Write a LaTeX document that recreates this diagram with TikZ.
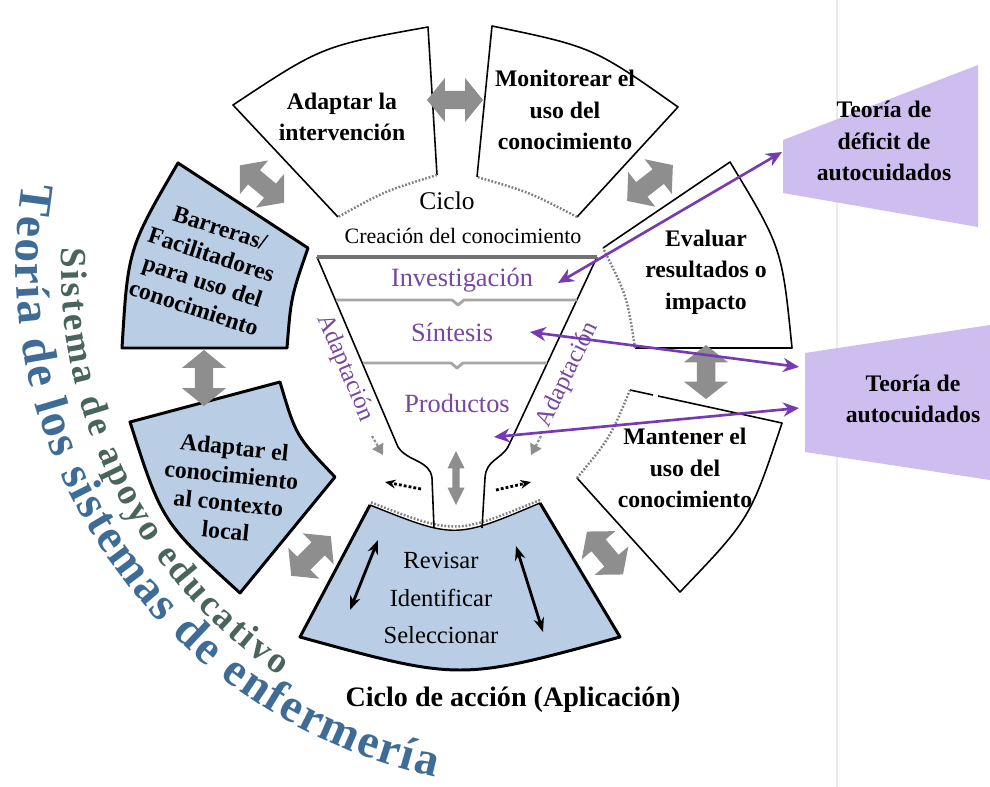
\documentclass[tikz,border=0pt]{standalone}
\usepackage{fontspec}
\setmainfont{Liberation Serif}
\usetikzlibrary{arrows.meta,decorations.text}
\definecolor{boxblue}{RGB}{185,205,229}
\definecolor{lav}{RGB}{206,190,240}
\definecolor{vio}{RGB}{118,58,178}
\definecolor{vtext}{RGB}{120,72,160}
\definecolor{agray}{RGB}{142,142,142}
\definecolor{bigblue}{RGB}{62,108,150}
\definecolor{sysgreen}{RGB}{72,100,92}
\begin{document}
\begin{tikzpicture}[x=0.02cm, y=-0.02cm,
  wedge/.style={draw=black, line width=0.9pt, line join=round},
  inarc/.style={draw=black!50, line width=1.4pt, dash pattern=on 1pt off 1pt},
  bwedge/.style={fill=boxblue, draw=black, line width=1.7pt, line join=round},
  lbl/.style={font=\fontsize{13.5}{18}\selectfont\bfseries, align=center, inner sep=0pt},
  lblt/.style={font=\fontsize{13.5}{16}\selectfont\bfseries, align=center, inner sep=0pt},
  rlbl/.style={font=\fontsize{14}{21.5}\selectfont, align=center, inner sep=0pt},
  ptext/.style={text=vtext, font=\fontsize{15}{17}\selectfont, inner sep=0pt},
  adtext/.style={text=vtext, font=\fontsize{14}{16}\selectfont, inner sep=0pt},
  parrow/.style={draw=vio, line width=1.5pt, {Stealth[length=9pt,width=8pt]}-{Stealth[length=9pt,width=8pt]}},
  barrow/.style={draw=black, line width=1.6pt, {Stealth[length=8pt,width=6pt]}-{Stealth[length=8pt,width=6pt]}},
  dotarrow/.style={draw=black, line width=1.6pt, dash pattern=on 1.6pt off 1.2pt, -{Stealth[length=6pt,width=5pt]}},
  garrowsm/.style={draw=agray, line width=1.2pt, dash pattern=on 1.5pt off 1pt, -{Triangle[length=6pt,width=7pt]}},
  divider/.style={draw=black!35, line width=1.6pt, line join=round},
  fatarrow/.pic={\fill[agray] (-1,0) -- (-0.36,-1) -- (-0.36,-0.42) -- (0.36,-0.42) -- (0.36,-1) -- (1,0) -- (0.36,1) -- (0.36,0.42) -- (-0.36,0.42) -- (-0.36,1) -- cycle;}
]
\useasboundingbox (0,0) rectangle (990,787);
\fill[white] (0,0) rectangle (990,787);
\draw[black!8, line width=0.6pt] (837,0) -- (837,787);

% ---- white wedges
\draw[wedge] (338,217) -- (233,105) .. controls (322,46) .. (428,27) -- (437,175);
\draw[inarc] (437,175) .. controls (385,191) .. (338,217);

\draw[wedge] (477,177) -- (492,26) .. controls (593,47) .. (678,107) -- (577,217);
\draw[inarc] (577,217) .. controls (529,192) .. (477,177);

\draw[wedge] (603,248) -- (730,162) .. controls (782,248) .. (792,348) -- (635,348);
\draw[inarc] (635,348) .. controls (627,296) .. (603,248);

\draw[wedge] (630,390) -- (653,395);
\draw[wedge] (658,396) -- (782,423) .. controls (750,519) .. (680,592) -- (577,478);
\draw[inarc] (577,478) .. controls (610,438) .. (630,390);

% ---- blue wedges
\fill[boxblue] (370,505) -- (300,637) .. controls (460,681) .. (620,637) -- (540,503) .. controls (455,539) .. (370,505) -- cycle;
\draw[line width=1.7pt, line join=round] (370,505) -- (300,637) .. controls (460,681) .. (620,637) -- (540,503);
\draw[line width=0.8pt] (540,503) .. controls (455,539) .. (370,505);
\draw[inarc] (540,500) .. controls (455,535) .. (370,502);

\draw[bwedge] (130,422) -- (280,382) .. controls (296,436) .. (335,477) -- (240,593) .. controls (162,522) .. (130,422) -- cycle;
\draw[bwedge] (178,163) -- (308,248) .. controls (291,297) .. (287,348) -- (122,348) .. controls (128,249) .. (178,163) -- cycle;

% ---- funnel
\draw[line width=0.9pt, line join=round] (317,257) -- (398,447) .. controls (408,462) and (430,460) .. (432,478) -- (434,528);
\draw[line width=0.9pt, line join=round] (597,257) -- (508,447) .. controls (500,460) and (486,460) .. (485,478) -- (482,528);
\draw[draw=black!55, line width=1.8pt] (317,257) -- (597,257);
\draw[divider] (336,300) -- (452,300) -- (458,305) -- (464,300) -- (577,300);
\draw[divider] (363,363) -- (451,363) -- (457,368) -- (463,363) -- (547,363);

% ---- gray fat double arrows
\pic[rotate=0, xscale=28, yscale=22] at (455,100) {fatarrow};
\pic[rotate=-40, xscale=29, yscale=22] at (262,184) {fatarrow};
\pic[rotate=38, xscale=29, yscale=22] at (650,183) {fatarrow};
\pic[rotate=90, xscale=27, yscale=22] at (706,372) {fatarrow};
\pic[rotate=-50, xscale=28, yscale=22] at (605,553) {fatarrow};
\pic[rotate=45, xscale=28, yscale=22] at (311,556) {fatarrow};
\pic[rotate=90, xscale=28, yscale=22] at (204,378) {fatarrow};
\pic[rotate=90, xscale=27, yscale=8.5] at (456,478) {fatarrow};

% ---- small arrows
\draw[garrowsm] (372,436) -- (383,455);
\draw[garrowsm] (541,436) -- (531,455);
\draw[dotarrow] (421,489) -- (385,482);
\draw[dotarrow] (496,490) -- (531,482);
\draw[barrow] (378,540) -- (350,610);
\draw[barrow] (516,546) -- (543,632);

% ---- labels
\node[lbl] (adint) at (342,117) {Adaptar la\\intervención};
\node[lbl] (monit) at (565,110) {Monitorear el\\uso del\\conocimiento};
\node[lbl] (evalu) at (706,272) {Evaluar\\resultados o\\impacto};
\node[lbl] (mante) at (685,468) {Mantener el\\uso del\\conocimiento};
\node[rlbl] (revis) at (441,598) {Revisar\\Identificar\\Seleccionar};
\node[lblt, rotate=-6] (adcon) at (230,489) {Adaptar el\\conocimiento\\al contexto\\local};
\node[lblt, rotate=-18] (barre) at (207,268) {Barreras/\\Facilitadores\\para uso del\\conocimiento};

\node[font=\fontsize{14.5}{16}\selectfont, inner sep=0pt] (ciclo) at (447,201) {Ciclo};
\node[font=\fontsize{12.5}{14}\selectfont, inner sep=0pt] (creac) at (463,236) {Creación del conocimiento};
\node[ptext] (inves) at (462,280) {Investigación};
\node[ptext] (sinte) at (452,332) {Síntesis};
\node[ptext] (produ) at (457,403) {Productos};
\node[adtext, rotate=-67] (adapl) at (345,368) {Adaptación};
\node[adtext, rotate=64] (adapr) at (568,375) {Adaptación};
\node[font=\fontsize{16}{18}\selectfont\bfseries, inner sep=0pt] (cicac) at (513,700) {Ciclo de acción (Aplicación)};

% ---- purple theory boxes
\fill[lav] (783,140) -- (978,65) -- (978,227) -- (783,193) -- cycle;
\fill[lav] (805,353) -- (990,325) -- (990,480) -- (805,452) -- cycle;
\node[lbl] (teoA) at (884,141) {Teoría de\\déficit de\\autocuidados};
\node[lbl] (teoB) at (913,399) {Teoría de\\autocuidados};

% ---- purple connectors
\coordinate (pinv) at (558,283);
\coordinate (pA) at (782,152);
\coordinate (psin) at (530,332);
\coordinate (pB1) at (799,367);
\coordinate (pprod) at (494,437);
\coordinate (pB2) at (799,408);
\draw[parrow] (pinv) -- (pA);
\draw[parrow] (psin) -- (pB1);
\draw[parrow] (pprod) -- (pB2);

% ---- curved texts
\path[decorate, decoration={text along path, text align={fit to path},
  text={|\color{bigblue}\fontsize{27}{27}\selectfont\bfseries|Teoría de los sistemas de enfermería}}]
  (22.6,182.4) arc[start angle=189, end angle=103, x radius=540, y radius=526];
\path[decorate, decoration={text along path, text align={fit to path},
  text={|\color{sysgreen}\fontsize{21}{21}\selectfont\bfseries|Sistema de apoyo educativo}}]
  (61.3,247.7) arc[start angle=182, end angle=124, radius=495];
\end{tikzpicture}
\end{document}
